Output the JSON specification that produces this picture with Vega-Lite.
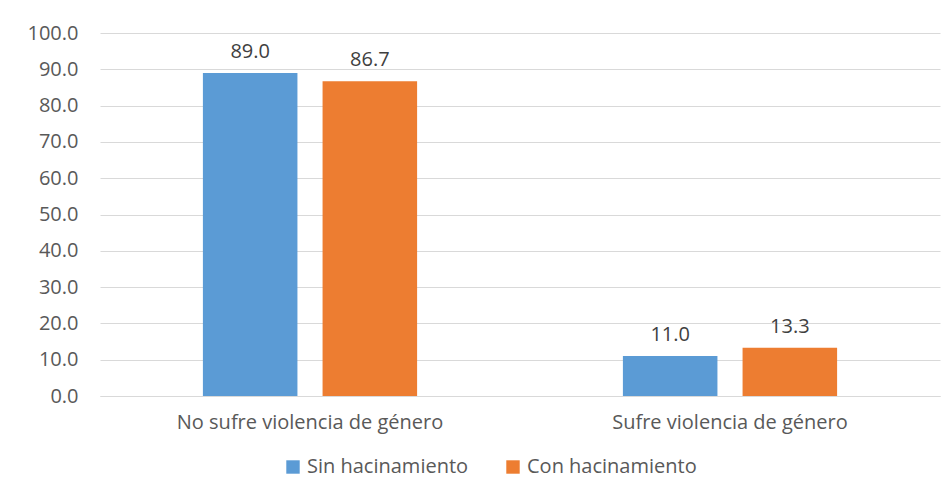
{
  "$schema": "https://vega.github.io/schema/vega-lite/v6.json",
  "width": 840,
  "height": 363,
  "autosize": {"type": "none"},
  "padding": {"left": 100, "top": 33, "right": 12, "bottom": 99},
  "background": "white",
  "data": {
    "values": [
      {"categoria": "No sufre violencia de género", "grupo": "Sin hacinamiento", "valor": 89.0},
      {"categoria": "No sufre violencia de género", "grupo": "Con hacinamiento", "valor": 86.7},
      {"categoria": "Sufre violencia de género", "grupo": "Sin hacinamiento", "valor": 11.0},
      {"categoria": "Sufre violencia de género", "grupo": "Con hacinamiento", "valor": 13.3}
    ]
  },
  "encoding": {
    "x": {
      "field": "categoria", "type": "nominal", "sort": null, "title": null,
      "scale": {"paddingInner": 0.49, "paddingOuter": 0.245},
      "axis": {"labelAngle": 0, "tickSize": 0, "labelPadding": 16, "labelLimit": 500, "domain": true, "domainColor": "#d9d9d9", "labelFontSize": 20, "labelColor": "#595959", "labelFont": "Open Sans"}
    },
    "xOffset": {"field": "grupo", "type": "nominal", "sort": ["Sin hacinamiento", "Con hacinamiento"], "scale": {"paddingInner": 0.21, "paddingOuter": 0}},
    "y": {
      "field": "valor", "type": "quantitative", "title": null,
      "scale": {"domain": [0, 100], "nice": false},
      "axis": {"values": [0,10,20,30,40,50,60,70,80,90,100], "format": ".1f", "domain": false, "ticks": false, "labelPadding": 22, "gridColor": "#d9d9d9", "labelFontSize": 20, "labelColor": "#595959", "labelFont": "Open Sans"}
    }
  },
  "layer": [
    {
      "mark": {"type": "bar"},
      "encoding": {
        "color": {
          "field": "grupo", "type": "nominal",
          "sort": ["Sin hacinamiento", "Con hacinamiento"],
          "scale": {"domain": ["Sin hacinamiento", "Con hacinamiento"], "range": ["#5B9BD5", "#ED7D31"]},
          "legend": {"orient": "none", "legendX": 183, "legendY": 424, "direction": "horizontal", "title": null, "symbolType": "square", "symbolSize": 180, "symbolStrokeWidth": 0, "labelFontSize": 20, "labelColor": "#595959", "labelFont": "Open Sans", "labelLimit": 400, "columnPadding": 34}
        }
      }
    },
    {
      "mark": {"type": "text", "dy": -21, "fontSize": 20, "color": "#404040", "font": "Open Sans"},
      "encoding": {
        "text": {"field": "valor", "type": "quantitative", "format": ".1f"}
      }
    }
  ],
  "config": {
    "view": {"stroke": null}
  }
}
